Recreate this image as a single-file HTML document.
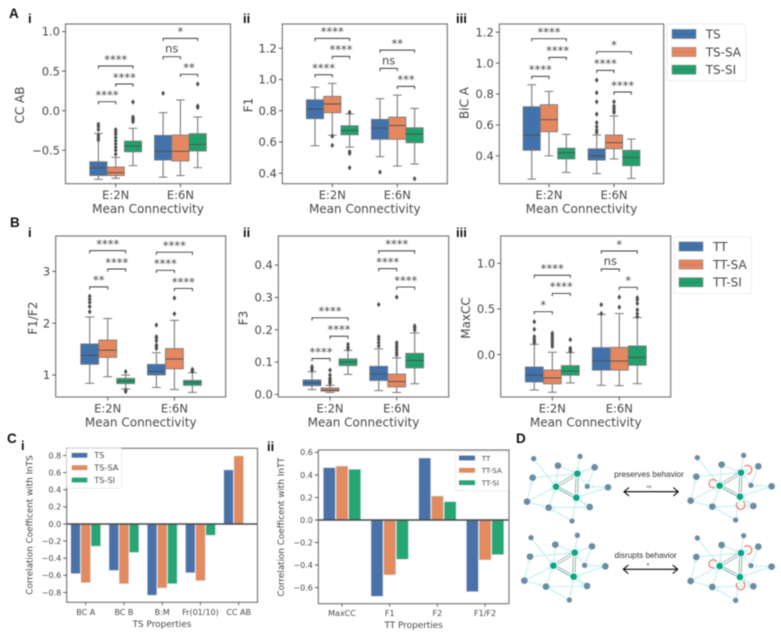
<!DOCTYPE html>
<html lang="en">
<head>
<meta charset="utf-8">
<title>Mean connectivity box plots and correlation bars</title>
<style>
html,body{margin:0;padding:0;background:#fff;}
body{width:781px;height:636px;overflow:hidden;}
#figure{display:block;filter:blur(0.45px);}
text{font-family:"DejaVu Sans","Liberation Sans",sans-serif;fill:#484848;}
.panel-letter{font-family:"Liberation Sans",sans-serif;font-weight:700;fill:#111;}
.d-text{font-family:"Liberation Sans",sans-serif;fill:#333;}
</style>
</head>
<body>
<svg id="figure" xmlns="http://www.w3.org/2000/svg" width="781" height="636" viewBox="0 0 781 636">
  <rect x="0" y="0" width="781" height="636" fill="#fff"/>
  <g>
    <text class="panel-letter" x="9" y="18" font-size="13.5">A</text>
    <text class="panel-letter" x="28" y="23" font-size="13">i</text>
    <text class="panel-letter" x="243" y="23" font-size="13">ii</text>
    <text class="panel-letter" x="456" y="23" font-size="13">iii</text>
    <text class="panel-letter" x="10" y="227" font-size="13.5">B</text>
    <text class="panel-letter" x="28" y="237" font-size="13">i</text>
    <text class="panel-letter" x="243" y="237" font-size="13">ii</text>
    <text class="panel-letter" x="456" y="237" font-size="13">iii</text>
    <text class="panel-letter" x="7" y="443" font-size="13.5">C</text>
    <text class="panel-letter" x="21" y="450" font-size="13">i</text>
    <text class="panel-letter" x="267" y="451" font-size="13">ii</text>
    <text class="panel-letter" x="516" y="443" font-size="13.5">D</text>
  </g>
  <g id="charts"></g>
  <g id="networks" transform="translate(510 425) scale(0.3333)"></g>
  <g>
    <text class="d-text" x="649" y="477" font-size="8.2" text-anchor="middle">preserves behavior</text>
    <text class="d-text" x="649" y="488" font-size="4.5" text-anchor="middle">ns</text>
    <path d="M624 491.7H678.3M629 487.5L624 491.7L629 496M673.3 487.5L678.3 491.7L673.3 496" fill="none" stroke="#000" stroke-width="1.05"/>
    <text class="d-text" x="645.7" y="558" font-size="8.2" text-anchor="middle">disrupts behavior</text>
    <text class="d-text" x="648" y="568" font-size="7" text-anchor="middle">*</text>
    <path d="M623.3 569.3H677.7M628.3 565L623.3 569.3L628.3 573.6M672.7 565L677.7 569.3L672.7 573.6" fill="none" stroke="#000" stroke-width="1.05"/>
  </g>
</svg>
<script>
const categories = ['E:2N', 'E:6N'];
const seriesTS = ['TS', 'TS-SA', 'TS-SI'];
const seriesTT = ['TT', 'TT-SA', 'TT-SI'];
const boxColors = ['#4272ab', '#e58760', '#22a06c'];

/* Box stats: low whisker, q1, median, q3, high whisker; order is category then series. */
const aiStats = [[-0.868,-0.82,-0.725,-0.645,-0.287],[-0.855,-0.82,-0.784,-0.712,-0.59],[-0.695,-0.52,-0.447,-0.384,-0.223],[-0.84,-0.624,-0.514,-0.312,-0.025],[-0.82,-0.636,-0.514,-0.308,0.135],[-0.72,-0.51,-0.426,-0.29,-0.08]];
const aiOutliers = [[-0.17,-0.2,-0.24,-0.31,-0.34,-0.37],[-0.24,-0.27,-0.3,-0.34,-0.38,-0.42,-0.46,-0.5,-0.55],[0.11,-0.08,-0.1,-0.12,-0.14],[0.22],[],[0.337,0.06,0.04]];
const aiBrackets = [[0,0,1,0.114,'****'],[0,1,2,0.337,'****'],[0,0,2,0.565,'****'],[1,0,1,0.683,'ns'],[1,0,2,0.914,'*'],[1,1,2,0.46,'**']];
const aiTicks = [-0.5,0,0.5,1];

const aiiStats = [[0.576,0.749,0.811,0.87,0.951],[0.644,0.787,0.843,0.892,0.975],[0.567,0.646,0.674,0.704,0.779],[0.506,0.617,0.689,0.745,0.877],[0.446,0.617,0.706,0.759,0.9],[0.459,0.595,0.651,0.691,0.815]];
const aiiOutliers = [[],[0.636,0.578],[0.79,0.538,0.527,0.435],[0.407],[],[0.365]];
const aiiBrackets = [[0,0,1,1.03,'****'],[0,1,2,1.148,'****'],[0,0,2,1.263,'****'],[1,0,1,1.071,'ns'],[1,0,2,1.188,'**'],[1,1,2,0.956,'***']];
const aiiTicks = [0.4,0.6,0.8,1,1.2];

const aiiiStats = [[0.25,0.436,0.533,0.718,0.86],[0.4,0.556,0.634,0.731,0.817],[0.293,0.38,0.42,0.45,0.539],[0.285,0.373,0.4,0.446,0.535],[0.38,0.446,0.485,0.535,0.658],[0.254,0.336,0.39,0.436,0.509]];
const aiiiOutliers = [[],[],[],[0.89,0.809,0.75,0.67,0.615,0.589,0.567,0.552],[0.75,0.722,0.707,0.692,0.68],[]];
const aiiiBrackets = [[0,0,1,0.914,'****'],[0,1,2,1.037,'****'],[0,0,2,1.158,'****'],[1,0,1,0.953,'****'],[1,1,2,0.813,'****'],[1,0,2,1.074,'*']];
const aiiiTicks = [0.4,0.6,0.8,1,1.2];

const biStats = [[0.84,1.206,1.38,1.6,2.12],[0.968,1.34,1.48,1.675,2.09],[0.73,0.833,0.884,0.936,1],[0.76,1,1.07,1.206,1.43],[0.72,1.12,1.31,1.51,2.055],[0.665,0.8,0.86,0.897,1.045]];
const biOutliers = [[2.52,2.46,2.4,2.32,2.22],[],[1.064,0.68,0.71],[1.965,1.74,1.71,1.66,1.58,1.55,1.51],[2.485,2.18],[1.11,1.09,1.07]];
const biBrackets = [[0,0,1,2.7,'**'],[0,1,2,3.045,'****'],[0,0,2,3.4,'****'],[1,0,1,3.02,'****'],[1,1,2,2.67,'****'],[1,0,2,3.37,'****']];
const biTicks = [1,2,3];

const biiStats = [[0.015,0.027,0.035,0.045,0.07],[0.006,0.01,0.014,0.02,0.028],[0.062,0.089,0.1,0.11,0.136],[0.012,0.043,0.063,0.087,0.141],[0.006,0.023,0.04,0.063,0.113],[0.033,0.082,0.105,0.127,0.19]];
const biiOutliers = [[0.086,0.08,0.075],[0.075,0.06,0.05,0.044,0.039,0.034],[0.155,0.147,0.141],[0.278,0.178,0.17,0.16,0.15],[0.301,0.16,0.152,0.145,0.137,0.129,0.122],[0.212,0.206,0.199]];
const biiBrackets = [[0,0,1,0.111,'****'],[0,1,2,0.18,'****'],[0,0,2,0.237,'****'],[1,0,1,0.389,'****'],[1,1,2,0.332,'****'],[1,0,2,0.444,'****']];
const biiTicks = [0,0.1,0.2,0.3,0.4];

const biiiStats = [[-0.387,-0.3,-0.223,-0.135,0.113],[-0.412,-0.32,-0.255,-0.168,0.026],[-0.31,-0.226,-0.18,-0.12,0.022],[-0.336,-0.17,-0.066,0.077,0.44],[-0.34,-0.17,-0.07,0.08,0.45],[-0.318,-0.117,-0.03,0.095,0.405]];
const biiiOutliers = [[0.36,0.277,0.197,0.17,0.15,0.13],[0.234,0.21,0.19,0.165,0.14,0.115,0.09],[0.164,0.07,0.05,0.035],[0.547,0.45],[0.63,0.52],[0.624,0.6,0.56,0.49,0.45,0.416]];
const biiiBrackets = [[0,0,1,0.47,'*'],[0,1,2,0.67,'****'],[0,0,2,0.869,'****'],[1,0,1,0.938,'ns'],[1,1,2,0.737,'*'],[1,0,2,1.135,'*']];
const biiiTicks = [0,0.5,1];

const ciCategories = ['BC A', 'BC B', 'B:M', 'Fr(01/10)', 'CC AB'];
const ciTS = [-0.58,-0.543,-0.833,-0.57,0.632];
const ciSA = [-0.686,-0.698,-0.748,-0.663,0.795];
const ciSI = [-0.26,-0.333,-0.698,-0.132,0];
const ciTicks = [-0.8,-0.6,-0.4,-0.2,0,0.2,0.4,0.6,0.8];

const ciiCategories = ['MaxCC', 'F1', 'F2', 'F1/F2'];
const ciiTT = [0.465,-0.678,0.55,-0.636];
const ciiSA = [0.479,-0.488,0.213,-0.355];
const ciiSI = [0.45,-0.349,0.163,-0.308];
const ciiTicks = [-0.6,-0.4,-0.2,0,0.2,0.4,0.6];

const NS = 'http://www.w3.org/2000/svg';
const INK = '#4a4a4a';
const charts = document.getElementById('charts');

function mk(parent, tag, attrs, txt) {
  const el = document.createElementNS(NS, tag);
  for (const k in attrs) el.setAttribute(k, attrs[k]);
  if (txt !== undefined) el.textContent = txt;
  parent.appendChild(el);
  return el;
}
function fmt(v, d) {
  const s = Math.abs(v).toFixed(d);
  return (v < 0 ? '\u2212' : '') + s;
}
function line(parent, x1, y1, x2, y2, stroke, w) {
  return mk(parent, 'line', {x1: x1, y1: y1, x2: x2, y2: y2, stroke: stroke, 'stroke-width': w});
}

function drawAxesFrame(g, p, name) {
  const frame = mk(g, 'rect', {x: p.l, y: p.t, width: p.r - p.l, height: p.b - p.t, fill: 'none', stroke: '#707070', 'stroke-width': 1.1});
  
  
}

function drawYAxis(g, p, name, ticks, dec, y, fs) {
  ticks.forEach(function (t) {
    const tk = line(g, p.l - 3.5, y(t), p.l, y(t), INK, 0.9);
    
    
    const lb = mk(g, 'text', {x: p.l - 5.5, y: y(t) + fs * 0.36, 'font-size': fs, 'text-anchor': 'end'}, fmt(t, dec));
    
    
  });
}

function drawYTitle(g, x, cy, txt, fs, name) {
  const tt = mk(g, 'text', {x: x, y: cy, 'font-size': fs, 'text-anchor': 'middle', 'dominant-baseline': 'middle', transform: 'rotate(-90 ' + x + ' ' + cy + ')'}, txt);
  
  
}

function drawBoxPanel(p) {
  const g = mk(charts, 'g', {});
  
  
  const y = function (v) { return p.b - (v - p.min) / (p.max - p.min) * (p.b - p.t); };
  const cx = function (c) { return p.cx0 + c * p.cxStep; };
  const hx = function (c, h) { return cx(c) + (h - 1) * p.off; };
  const bw = p.off - 0.1;

  p.stats.forEach(function (s, k) {
    const c = Math.floor(k / 3), h = k % 3, x = hx(c, h);
    const grp = mk(g, 'g', {});
    
    
    line(grp, x, y(s[0]), x, y(s[1]), '#777', 1.1);
    line(grp, x, y(s[3]), x, y(s[4]), '#777', 1.1);
    line(grp, x - bw / 4, y(s[0]), x + bw / 4, y(s[0]), '#777', 1);
    line(grp, x - bw / 4, y(s[4]), x + bw / 4, y(s[4]), '#777', 1);
    mk(grp, 'rect', {x: x - bw / 2, y: y(s[3]), width: bw, height: y(s[1]) - y(s[3]), fill: boxColors[h], stroke: '#7a7a7a', 'stroke-width': 0.85});
    line(grp, x - bw / 2, y(s[2]), x + bw / 2, y(s[2]), '#4c4c4c', 0.9);
    p.outliers[k].forEach(function (o) {
      const yy = y(o);
      const d = mk(grp, 'path', {d: 'M' + x + ' ' + (yy - 2.7) + 'L' + (x + 1.9) + ' ' + yy + 'L' + x + ' ' + (yy + 2.7) + 'L' + (x - 1.9) + ' ' + yy + 'Z', fill: '#505050'});
      
      
    });
  });

  p.brackets.forEach(function (b) {
    const x1 = hx(b[0], b[1]), x2 = hx(b[0], b[2]), yy = y(b[3]);
    const br = mk(g, 'path', {d: 'M' + x1 + ' ' + (yy + 2.7) + 'V' + yy + 'H' + x2 + 'V' + (yy + 2.7), fill: 'none', stroke: '#3a3a3a', 'stroke-width': 0.95});
    
    
    const isNs = b[4] === 'ns';
    const lb = mk(g, 'text', {x: (x1 + x2) / 2, y: yy - (isNs ? 4 : 2.7), 'font-size': 11.5, 'text-anchor': 'middle'}, b[4]);
    
    
  });

  drawAxesFrame(g, p, p.name);
  drawYAxis(g, p, p.name, p.ticks, p.dec, y, 11.5);
  categories.forEach(function (c, i) {
    const tk = line(g, cx(i), p.b, cx(i), p.b + 3.5, INK, 0.9);
    
    
    const lb = mk(g, 'text', {x: cx(i), y: p.b + 15.3, 'font-size': 11.5, 'text-anchor': 'middle'}, c);
    
    
  });
  const xt = mk(g, 'text', {x: (p.l + p.r) / 2, y: p.b + 29.5, 'font-size': 12, 'text-anchor': 'middle'}, 'Mean Connectivity');
  
  
  drawYTitle(g, p.titleX, p.titleY, p.title, 12, p.name);
}

function drawBoxLegend(x, y, w, h, names, patchX, textX, rowYs, name) {
  const g = mk(charts, 'g', {});
  
  
  mk(g, 'rect', {x: x, y: y, width: w, height: h, rx: 1.5, fill: '#fff', stroke: '#ececec', 'stroke-width': 0.9});
  names.forEach(function (n, i) {
    const en = mk(g, 'g', {});
    
    
    mk(en, 'rect', {x: patchX, y: rowYs[i] - 4.6, width: 24, height: 9.2, fill: boxColors[i], stroke: '#909090', 'stroke-width': 0.6});
    line(en, patchX, rowYs[i], patchX + 24, rowYs[i], 'rgba(40,40,40,.22)', 0.6);
    mk(en, 'text', {x: textX, y: rowYs[i] + 4.3, 'font-size': 12}, n);
  });
}

function drawBarPanel(p) {
  const g = mk(charts, 'g', {});
  
  
  const y = function (v) { return p.b - (v - p.min) / (p.max - p.min) * (p.b - p.t); };
  const cx = function (i) { return p.cx0 + i * p.cxStep; };
  const cols = ['#4a72a8', '#e28a60', '#28a572'];
  p.values.forEach(function (vals, s) {
    vals.forEach(function (v, i) {
      if (v === 0) return;
      const x = cx(i) + (s - 1) * p.step;
      const top = Math.min(y(v), y(0));
      const bar = mk(g, 'rect', {x: x - p.bw / 2, y: top, width: p.bw, height: Math.abs(y(v) - y(0)), fill: cols[s], stroke: '#dfe7ea', 'stroke-width': 0.6});
      
      
    });
  });
  const zero = line(g, p.l, y(0), p.r, y(0), '#4a4a4a', 1.5);
  
  
  drawAxesFrame(g, p, p.name);
  drawYAxis(g, p, p.name, p.ticks, 1, y, 8);
  p.categories.forEach(function (c, i) {
    const tk = line(g, cx(i), p.b, cx(i), p.b + 3, INK, 0.8);
    
    
    const lb = mk(g, 'text', {x: cx(i), y: p.b + 12.5, 'font-size': 8, 'text-anchor': 'middle'}, c);
    
    
  });
  const xt = mk(g, 'text', {x: p.xTitleX, y: p.b + 24.5, 'font-size': 8.9, 'text-anchor': 'middle'}, p.xTitle);
  
  
  drawYTitle(g, p.titleX, p.titleY, p.title, 8.8, p.name);
  const lg = mk(g, 'g', {});
  
  
  const L = p.legend;
  mk(lg, 'rect', {x: L.x, y: L.y, width: L.w, height: L.h, rx: 1.5, fill: 'rgba(255,255,255,.85)', stroke: '#e8e8e8', 'stroke-width': 0.8});
  p.series.forEach(function (n, i) {
    const en = mk(lg, 'g', {});
    
    
    mk(en, 'rect', {x: L.px, y: L.rows[i] - 2.4, width: L.pw, height: 4.8, fill: cols[i]});
    mk(en, 'text', {x: L.tx, y: L.rows[i] + 2.8, 'font-size': L.fs}, n);
  });
}

drawBoxPanel({name:'chart-a-i', l:65.5, r:230.5, t:24, b:183.7, min:-0.923, max:1.096, cx0:115.7, cxStep:64.7, off:17.3, stats:aiStats, outliers:aiOutliers, brackets:aiBrackets, ticks:aiTicks, dec:1, series:seriesTS, title:'CC AB', titleX:20.7, titleY:105});
drawBoxPanel({name:'chart-a-ii', l:282.3, r:447.3, t:24, b:183.7, min:0.333, max:1.355, cx0:332.3, cxStep:65, off:17.3, stats:aiiStats, outliers:aiiOutliers, brackets:aiiBrackets, ticks:aiiTicks, dec:1, series:seriesTS, title:'F1', titleX:249, titleY:105});
drawBoxPanel({name:'chart-a-iii', l:499.3, r:663.7, t:24, b:183.7, min:0.22, max:1.253, cx0:549, cxStep:65, off:17.3, stats:aiiiStats, outliers:aiiiOutliers, brackets:aiiiBrackets, ticks:aiiiTicks, dec:1, series:seriesTS, title:'BiC A', titleX:465, titleY:103});
drawBoxPanel({name:'chart-b-i', l:55.7, r:225.7, t:236, b:397, min:0.576, max:3.682, cx0:107.7, cxStep:66.7, off:18, stats:biStats, outliers:biOutliers, brackets:biBrackets, ticks:biTicks, dec:0, series:seriesTT, title:'F1/F2', titleX:33.3, titleY:318});
drawBoxPanel({name:'chart-b-ii', l:278.3, r:448.7, t:236, b:397, min:-0.008, max:0.49, cx0:330, cxStep:66.7, off:18, stats:biiStats, outliers:biiOutliers, brackets:biiBrackets, ticks:biiTicks, dec:1, series:seriesTT, title:'F3', titleX:244, titleY:318});
drawBoxPanel({name:'chart-b-iii', l:500.7, r:670.7, t:236, b:397, min:-0.464, max:1.299, cx0:552.3, cxStep:67, off:18, stats:biiiStats, outliers:biiiOutliers, brackets:biiiBrackets, ticks:biiiTicks, dec:1, series:seriesTT, title:'MaxCC', titleX:466.7, titleY:318});

drawBoxLegend(667, 24, 78.7, 57, seriesTS, 672, 705.7, [34, 52, 69.7], 'legend-ts');
drawBoxLegend(674.3, 236.7, 77, 57, seriesTT, 679, 713, [246.5, 264.5, 282.3], 'legend-tt');

drawBarPanel({name:'chart-c-i', l:66.7, r:257.5, t:448.3, b:602.3, min:-0.915, max:0.884, cx0:85.7, cxStep:38.25, step:10.15, bw:9.6, values:[ciTS, ciSA, ciSI], categories:ciCategories, series:seriesTS, ticks:ciTicks, title:'Correlation Coefficent with InTS', titleX:30, titleY:525, xTitle:'TS Properties', xTitleX:162, legend:{x:66.7, y:448.3, w:55, h:40, px:71.7, pw:15.6, tx:94.3, fs:8.2, rows:[455.3, 467.7, 480]}});
drawBarPanel({name:'chart-c-ii', l:318.3, r:509, t:450, b:603.7, min:-0.743, max:0.621, cx0:342, cxStep:47.7, step:12.7, bw:12, values:[ciiTT, ciiSA, ciiSI], categories:ciiCategories, series:seriesTT, ticks:ciiTicks, title:'Correlation Coefficent with InTT', titleX:281.7, titleY:527, xTitle:'TT Properties', xTitleX:413.7, legend:{x:455.7, y:451.7, w:52.6, h:39, px:459, pw:16, tx:481.7, fs:7.2, rows:[458, 470.3, 482.7]}});

/* Panel D network diagrams */
const greenNodes = [[202,146],[138,185],[199,218]];
const greyNodes = [[71,101,8],[144,122,10],[210,94,8],[254,127,10],[68,158,10],[232,184,8],[294,187,10],[51,230,10],[116,248,10],[239,246,10],[186,288,8]];
const lightEdges = [['n0','g1'],['n1','g1'],['n1','g0'],['n2','g0'],['n3','g0'],['n3','n5'],['n4','g0'],['n7','n4'],['n7','g1'],['n7','n8'],['n8','g1'],['n8','n9'],['n6','n5'],['n6','g2'],['n9','g2'],['n10','g2'],['n10','n8'],['n5','g0'],['g1','n9']];
const triangleEdges = [['g0','g1'],['g1','g2'],['g0','g2']];
const networkPlacements = [
  {dx:0, dy:0, loops:false, name:'network-top-left'},
  {dx:491, dy:-3, loops:true, name:'network-top-right'},
  {dx:-8, dy:237, loops:false, name:'network-bottom-left'},
  {dx:491, dy:238, loops:true, name:'network-bottom-right'}
];
const networksRoot = document.getElementById('networks');
function nodePos(id) {
  const idx = parseInt(id.slice(1), 10);
  return id[0] === 'g' ? greenNodes[idx] : greyNodes[idx];
}
networkPlacements.forEach(function (pl) {
  const net = mk(networksRoot, 'g', {transform: 'translate(' + pl.dx + ' ' + pl.dy + ')'});
  
  
  lightEdges.forEach(function (e) {
    const a = nodePos(e[0]), b = nodePos(e[1]);
    const dx = b[0] - a[0], dy = b[1] - a[1], len = Math.hypot(dx, dy);
    const ux = dx / len, uy = dy / len;
    const ex = b[0] - ux * 15, ey = b[1] - uy * 15;
    const link = mk(net, 'path', {d: 'M' + a[0] + ' ' + a[1] + 'L' + ex + ' ' + ey + 'M' + (ex - uy * 6) + ' ' + (ey + ux * 6) + 'L' + (ex + uy * 6) + ' ' + (ey - ux * 6), stroke: '#c6eff2', 'stroke-width': 3.4, fill: 'none'});
    
    
  });
  triangleEdges.forEach(function (e) {
    const a = nodePos(e[0]), b = nodePos(e[1]);
    const dx = b[0] - a[0], dy = b[1] - a[1], len = Math.hypot(dx, dy);
    const ux = dx / len, uy = dy / len;
    [-3.5, 3.5].forEach(function (o) {
      const link = line(net, a[0] + ux * 12 - uy * o, a[1] + uy * 12 + ux * o, b[0] - ux * 12 - uy * o, b[1] - uy * 12 + ux * o, '#2b6b5d', 1.5);
      
      
    });
  });
  greyNodes.forEach(function (n) {
    const node = mk(net, 'circle', {cx: n[0], cy: n[1], r: n[2], fill: '#6a8ea3'});
    
    
  });
  greenNodes.forEach(function (n) {
    const node = mk(net, 'circle', {cx: n[0], cy: n[1], r: 10, fill: '#0aa582'});
    
    
  });
  if (pl.loops) {
    const loopArcs = [
      'M212 128A13 13 0 1 1 220 150',
      'M128 172A12 12 0 1 0 122 190',
      'M190 236A13 13 0 1 0 208 232'
    ];
    loopArcs.forEach(function (d) {
      const loop = mk(net, 'path', {d: d, fill: 'none', stroke: '#f0725a', 'stroke-width': 3.4});
      
      
    });
  }
});
</script>
</body>
</html>
